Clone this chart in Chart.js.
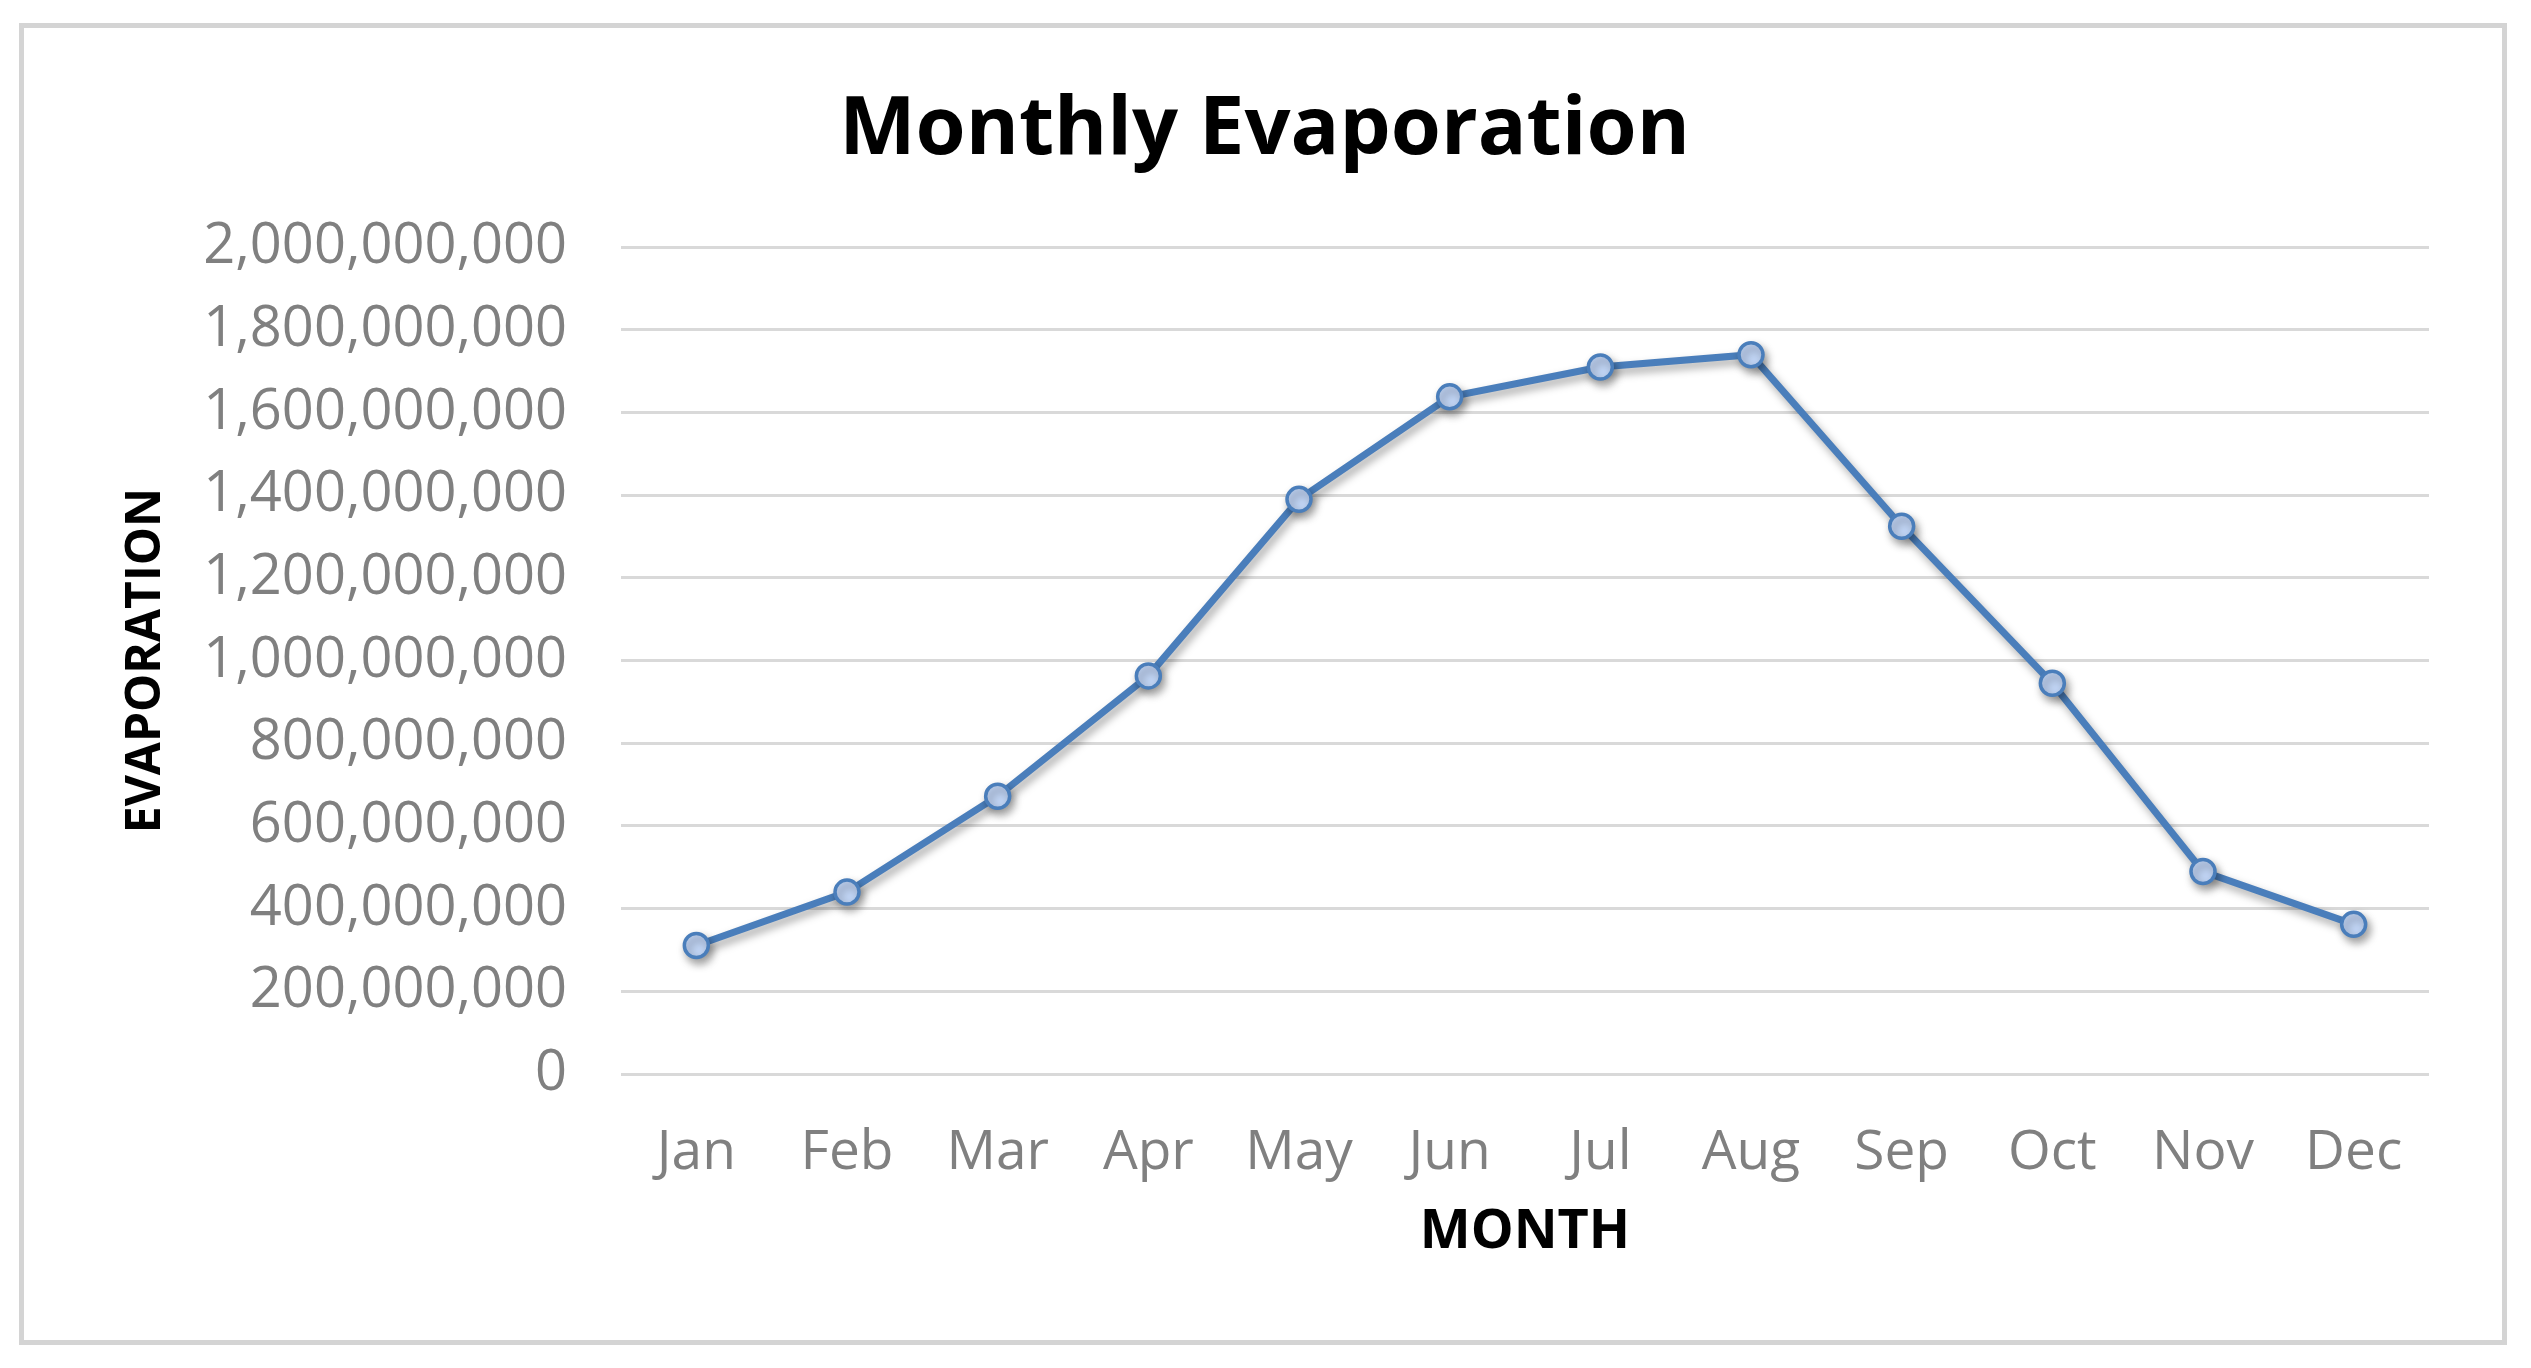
<!DOCTYPE html>
<html>
<head>
<meta charset="utf-8">
<script src="https://cdn.jsdelivr.net/npm/chart.js@4.4.0/dist/chart.umd.min.js"></script>
<style>
  html, body { margin: 0; padding: 0; background: #fff; }
</style>
</head>
<body>
<canvas id="chart" width="2531" height="1368"></canvas>
<script>
const months = ['Jan', 'Feb', 'Mar', 'Apr', 'May', 'Jun', 'Jul', 'Aug', 'Sep', 'Oct', 'Nov', 'Dec'];
const evaporation = [311000000, 440000000, 672000000, 963000000, 1390000000, 1638000000,
  1710000000, 1740000000, 1325000000, 945000000, 490000000, 362000000];
const yMin = 0;
const yMax = 2000000000;
const yStep = 200000000;

const FONT = 'Open Sans';

// white background + the light grey box round the whole chart
const frame = {
  id: 'frame',
  beforeDraw(chart) {
    const ctx = chart.ctx;
    ctx.save();
    ctx.fillStyle = '#fff';
    ctx.fillRect(0, 0, chart.width, chart.height);
    ctx.strokeStyle = '#d4d4d4';
    ctx.lineWidth = 5;
    ctx.strokeRect(21.5, 25.5, chart.width - 48, chart.height - 51);
    ctx.restore();
  }
};

// soft drop shadow under the line, like the office chart
const lineShadow = {
  id: 'lineShadow',
  beforeDatasetDraw(chart) {
    const ctx = chart.ctx;
    ctx.save();
    ctx.shadowColor = 'rgba(0,0,0,0.35)';
    ctx.shadowBlur = 8;
    ctx.shadowOffsetX = 3;
    ctx.shadowOffsetY = 5;
  },
  afterDatasetDraw(chart) {
    chart.ctx.restore();
  }
};

new Chart(document.getElementById('chart'), {
  type: 'line',
  data: {
    labels: months,
    datasets: [{
      data: evaporation,
      borderColor: '#4a7ebb',
      borderWidth: 7,
      pointRadius: 12,
      pointBorderWidth: 3.5,
      pointBorderColor: '#4a7ebb',
      pointBackgroundColor: '#c0d4f4',
      tension: 0
    }]
  },
  plugins: [frame, lineShadow],
  options: {
    responsive: false,
    animation: false,
    layout: { padding: { left: 100, right: 102, top: 0, bottom: 0 } },
    plugins: {
      legend: { display: false },
      tooltip: { enabled: false },
      title: {
        display: true,
        text: 'Monthly Evaporation',
        color: '#000',
        font: { family: FONT, size: 81, weight: 'bold' },
        padding: { top: 82, bottom: 68 }
      }
    },
    scales: {
      x: {
        offset: true,
        grid: { display: false },
        border: { display: false },
        ticks: {
          color: '#808080',
          font: { family: FONT, size: 55 },
          padding: 38,
          maxRotation: 0
        },
        title: {
          display: true,
          text: 'MONTH',
          color: '#000',
          font: { family: FONT, size: 54, weight: 'bold' },
          padding: { top: 0, bottom: 103 }
        },
        afterFit(scale) { scale.height = 294; }
      },
      y: {
        min: yMin,
        max: yMax,
        border: { display: false },
        grid: { color: '#d9d9d9', lineWidth: 3, drawTicks: false },
        ticks: {
          stepSize: yStep,
          color: '#808080',
          font: { family: FONT, size: 56 },
          padding: 54,
          callback: v => v.toLocaleString('en-US')
        },
        title: {
          display: true,
          text: 'EVAPORATION',
          color: '#000',
          font: { family: FONT, size: 48, weight: 'bold' },
          padding: { top: 18, bottom: 0 }
        },
        afterFit(scale) { scale.width = 521; }
      }
    }
  }
});
</script>
</body>
</html>
